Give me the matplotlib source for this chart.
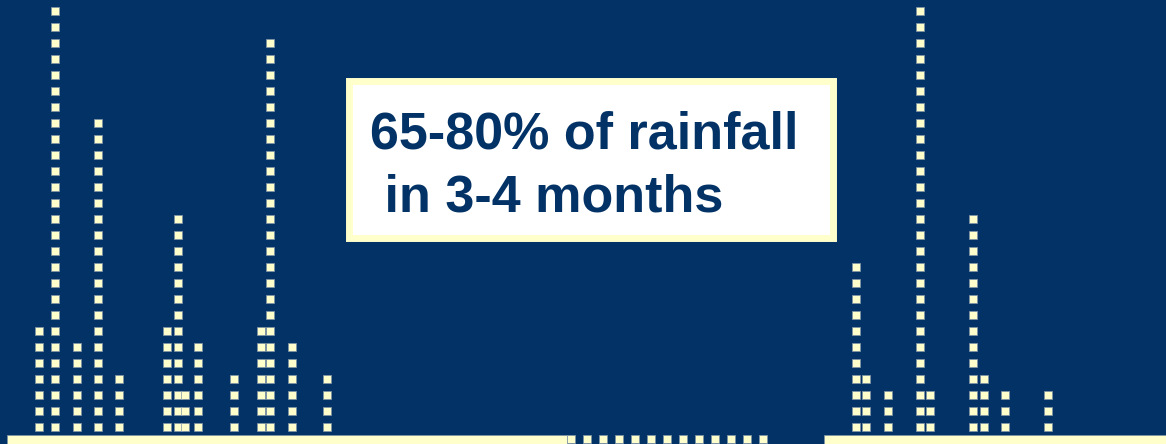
import matplotlib.pyplot as plt
from matplotlib.patches import Rectangle

# monthly rainfall drawn as stacks of square blocks (one block = one unit)
left_x = [39, 55, 77, 98, 119, 167, 178, 185, 198, 234, 261, 270, 292, 327]
left_n = [7, 27, 6, 20, 4, 7, 14, 3, 6, 4, 7, 25, 6, 4]
right_x = [856, 866, 888, 920, 930, 973, 984, 1005, 1048]
right_n = [11, 4, 3, 27, 3, 14, 4, 3, 3]

# ground line: two solid pieces with a dotted stretch between them
ground_solid = [(7, 567), (824, 1166)]
ground_dots = [571, 587, 603, 619, 635, 651, 667, 683, 699, 715, 731, 747, 763]

navy = '#033366'
cream = '#FFFFCC'

fig = plt.figure(figsize=(11.66, 4.44), dpi=100)
fig.patch.set_facecolor(navy)
ax = fig.add_axes([0, 0, 1, 1])
ax.set_facecolor(navy)
ax.set_xlim(0, 1166)
ax.set_ylim(-0.0625, 27.6875)
ax.axis('off')

xs, ys = [], []
for x, n in zip(left_x + right_x, left_n + right_n):
    for k in range(1, n + 1):
        xs.append(x)
        ys.append(k)
ax.scatter(xs, ys, marker='s', s=5.9**2, color=cream,
           edgecolors='#7f93a6', linewidths=0.5, zorder=3)

for x0, x1 in ground_solid:
    ax.fill_between([x0, x1], -0.0625, 0.52, color=cream,
                    edgecolor='#7f93a6', linewidth=0.5, zorder=3)
ax.scatter(ground_dots, [0.25] * len(ground_dots), marker='s', s=5.9**2,
           color=cream, edgecolors='#7f93a6', linewidths=0.5, zorder=3)

# callout box
box = Rectangle((348.5 / 1166, (444 - 238.5) / 444), 484 / 1166, 157 / 444,
                transform=fig.transFigure, facecolor='white',
                edgecolor=cream, linewidth=5.0, zorder=4)
fig.patches.append(box)

fig.text(370 / 1166, (444 - 148) / 444, '65-80% of rainfall',
         family='Liberation Sans', weight='bold', fontsize=37.5,
         color=navy, va='baseline', ha='left', zorder=5)
fig.text(370 / 1166, (444 - 211.7) / 444, ' in 3-4 months',
         family='Liberation Sans', weight='bold', fontsize=37.5,
         color=navy, va='baseline', ha='left', zorder=5)

fig.savefig('out.png', dpi=100, facecolor=navy)
